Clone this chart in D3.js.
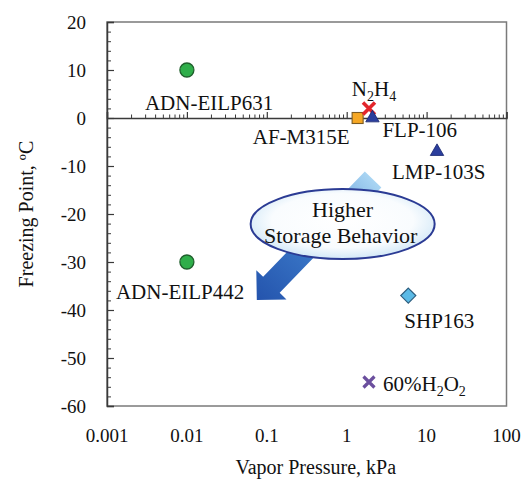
<!DOCTYPE html>
<html>
<head>
<meta charset="utf-8">
<script src="https://cdn.jsdelivr.net/npm/d3@7/dist/d3.min.js"></script>
<style>
  html, body { margin: 0; padding: 0; background: #fff; }
  svg { display: block; }
</style>
</head>
<body>
<svg id="chart" width="523" height="482"></svg>
<script>
// ---- data ----
const names = ["ADN-EILP631", "ADN-EILP442", "AF-M315E", "N2H4", "FLP-106", "LMP-103S", "SHP163", "60%H2O2"];
const vaporPressure = [0.01, 0.01, 1.37, 1.9, 2.1, 13.5, 5.9, 1.9];   // kPa
const freezingPoint = [10, -30, 0, 2, 0, -7, -37, -55];               // °C
const xTicks = [0.001, 0.01, 0.1, 1, 10, 100];
const xTickLabels = ["0.001", "0.01", "0.1", "1", "10", "100"];
const yTicks = [20, 10, 0, -10, -20, -30, -40, -50, -60];
const annotationText = ["Higher", "Storage Behavior"];
// arrow from (vapor pressure, freezing point) tail to tip, ellipse centre
const arrowTail = [2.14, -12.8];
const arrowTip = [0.075, -37.9];
const ellipseCentre = [0.89, -22.1];

// ---- styles ----
const markerStyle = {
  "ADN-EILP631": {shape: "circle", fill: "#2fae4a", stroke: "#1f5f2c"},
  "ADN-EILP442": {shape: "circle", fill: "#2fae4a", stroke: "#1f5f2c"},
  "AF-M315E":    {shape: "square", fill: "#f6a723", stroke: "#7a5a22"},
  "N2H4":        {shape: "x", stroke: "#e3262b", w: 3.6, s: 6},
  "FLP-106":     {shape: "triangle", fill: "#2b3e9d", stroke: "#18266e"},
  "LMP-103S":    {shape: "triangle", fill: "#2b3e9d", stroke: "#18266e"},
  "SHP163":      {shape: "diamond", fill: "#5bbae6", stroke: "#2c5d7e"},
  "60%H2O2":     {shape: "x", stroke: "#6b4f9e", w: 3.2, s: 5.5}
};
// label offsets in px from the marker: [dx, dy, anchor]
const labelOffset = {
  "ADN-EILP631": [-42, 33, "start"],
  "ADN-EILP442": [-71, 30, "start"],
  "AF-M315E":    [-8, 19, "end"],
  "N2H4":        [5, -19, "middle"],
  "FLP-106":     [10, 12, "start"],
  "LMP-103S":    [-45, 20, "start"],
  "SHP163":      [-4, 25, "start"],
  "60%H2O2":     [14, 2, "start"]
};

const svg = d3.select("#chart");
const L = 107, R = 506.5, T = 22, B = 406;
const x = d3.scaleLog().domain([0.001, 100]).range([L, R]);
const y = d3.scaleLinear().domain([-60, 20]).range([B, T]);

// text uses the browser's default (serif) face
function txt(sel, size) {
  return sel.attr("font-size", size).attr("fill", "#111");
}
function cleanAxis(g) {
  g.attr("font-family", null).attr("font-size", null);
  g.selectAll("text").remove();
}

// defs
const defs = svg.append("defs");
const ag = defs.append("linearGradient").attr("id", "arrowGrad")
  .attr("gradientUnits", "userSpaceOnUse").attr("x1", 0).attr("y1", 0).attr("x2", 168).attr("y2", 0);
ag.append("stop").attr("offset", 0).attr("stop-color", "#2454ad");
ag.append("stop").attr("offset", 0.45).attr("stop-color", "#3a77c7");
ag.append("stop").attr("offset", 1).attr("stop-color", "#a9d5f3");
const eg = defs.append("radialGradient").attr("id", "ellGrad").attr("cx", "50%").attr("cy", "45%").attr("r", "55%");
eg.append("stop").attr("offset", 0).attr("stop-color", "#ffffff");
eg.append("stop").attr("offset", 0.7).attr("stop-color", "#f9fcfe");
eg.append("stop").attr("offset", 1).attr("stop-color", "#d2e8f7");

const textLayer = svg.append("g");

// frame
svg.append("rect").attr("x", L).attr("y", T).attr("width", R - L).attr("height", B - T)
  .attr("fill", "none").attr("stroke", "#7a7a7a").attr("stroke-width", 1.5);

// y axis (ticks inside)
const gy = svg.append("g").attr("transform", `translate(${L},0)`)
  .call(d3.axisRight(y).tickValues(yTicks).tickSize(7).tickFormat("")).call(cleanAxis);
gy.select(".domain").attr("stroke", "#3a3a3a").attr("stroke-width", 1.5);
gy.selectAll(".tick line").attr("stroke", "#3a3a3a").attr("stroke-width", 1.2);
const yMinor = d3.range(-60, 21, 2).filter(v => v % 10 !== 0);
const gym = svg.append("g").attr("transform", `translate(${L},0)`)
  .call(d3.axisRight(y).tickValues(yMinor).tickSize(4).tickFormat("")).call(cleanAxis);
gym.select(".domain").remove();
gym.selectAll(".tick line").attr("stroke", "#3a3a3a").attr("stroke-width", 1);

// x axis on y = 0, ticks pointing up
const gx = svg.append("g").attr("transform", `translate(0,${y(0)})`)
  .call(d3.axisTop(x).tickValues(xTicks).tickSize(6).tickFormat("")).call(cleanAxis);
gx.select(".domain").attr("stroke", "#3a3a3a").attr("stroke-width", 1.5);
gx.selectAll(".tick line").attr("stroke", "#3a3a3a").attr("stroke-width", 1.2);
const xMinor = [];
for (let e = -3; e < 2; e++) for (let m = 2; m <= 9; m++) xMinor.push(m * Math.pow(10, e));
const gxm = svg.append("g").attr("transform", `translate(0,${y(0)})`)
  .call(d3.axisTop(x).tickValues(xMinor).tickSize(3.5).tickFormat("")).call(cleanAxis);
gxm.select(".domain").remove();
gxm.selectAll(".tick line").attr("stroke", "#3a3a3a").attr("stroke-width", 1);

// tick labels
textLayer.append("g").selectAll("text").data(yTicks).join("text")
  .call(txt, 19)
  .attr("x", 86).attr("y", d => y(d) + 6.5)
  .attr("text-anchor", "end").text(d => d);
textLayer.append("g").selectAll("text").data(xTicks).join("text")
  .call(txt, 19)
  .attr("x", d => x(d)).attr("y", 441.5)
  .attr("text-anchor", "middle").text((d, i) => xTickLabels[i]);

// axis titles
textLayer.append("text").call(txt, 20).attr("x", (L + R) / 2 + 9).attr("y", 474)
  .attr("text-anchor", "middle").text("Vapor Pressure, kPa");
textLayer.append("text").call(txt, 20).attr("transform", `translate(33,${(T + B) / 2}) rotate(-90)`)
  .attr("text-anchor", "middle").text("Freezing Point, ºC");

// points
const pts = names.map((n, i) => ({name: n, vx: vaporPressure[i], fy: freezingPoint[i]}));
const gp = svg.append("g");
pts.forEach(p => {
  const st = markerStyle[p.name];
  const g = gp.append("g").attr("transform", `translate(${x(p.vx)},${y(p.fy)})`);
  if (st.shape === "circle") {
    g.append("circle").attr("r", 7).attr("fill", st.fill).attr("stroke", st.stroke).attr("stroke-width", 1.3);
  } else if (st.shape === "square") {
    g.append("rect").attr("x", -5.5).attr("y", -5.5).attr("width", 11).attr("height", 11)
      .attr("fill", st.fill).attr("stroke", st.stroke).attr("stroke-width", 1.1);
  } else if (st.shape === "triangle") {
    g.append("path").attr("d", d3.symbol(d3.symbolTriangle, 78)())
      .attr("fill", st.fill).attr("stroke", st.stroke).attr("stroke-width", 0.8);
  } else if (st.shape === "diamond") {
    g.append("path").attr("d", "M0,-7.5L7.5,0L0,7.5L-7.5,0Z")
      .attr("fill", st.fill).attr("stroke", st.stroke).attr("stroke-width", 1.2);
  } else if (st.shape === "x") {
    const s = st.s;
    g.append("path").attr("d", `M${-s},${-s}L${s},${s}M${-s},${s}L${s},${-s}`)
      .attr("stroke", st.stroke).attr("stroke-width", st.w).attr("fill", "none");
  }
});

// point labels
pts.forEach(p => {
  const [dx, dy, anchor] = labelOffset[p.name];
  const t = textLayer.append("text").call(txt, 21).attr("x", x(p.vx) + dx).attr("y", y(p.fy) + dy + 7)
    .attr("text-anchor", anchor);
  if (p.name === "N2H4" || p.name === "60%H2O2") {
    const parts = p.name === "N2H4" ? ["N", "2", "H", "4"] : ["60%H", "2", "O", "2"];
    parts.forEach((s, i) => {
      const sub = i % 2 === 1;
      t.append("tspan").text(s).attr("font-size", sub ? 14 : 21)
        .attr("dy", sub ? 5 : (i === 0 ? null : -5));
    });
  } else {
    t.text(p.name);
  }
});

// arrow
const tip = [x(arrowTip[0]), y(arrowTip[1])];
const tail = [x(arrowTail[0]), y(arrowTail[1])];
const len = Math.hypot(tail[0] - tip[0], tail[1] - tip[1]);
const ang = Math.atan2(tail[1] - tip[1], tail[0] - tip[0]) * 180 / Math.PI;
const hl = 21, hw = 21, sw = 11.5;
const arrowPts = [[0, 0], [hl, hw], [hl, sw], [len, sw], [len, -sw], [hl, -sw], [hl, -hw]];
ag.attr("x2", len);
const annot = svg.append("g");
annot.append("path").attr("transform", `translate(${tip[0]},${tip[1]}) rotate(${ang})`)
  .attr("d", d3.line()(arrowPts) + "Z").attr("fill", "url(#arrowGrad)");

// ellipse annotation
const ec = [x(ellipseCentre[0]), y(ellipseCentre[1])];
annot.append("ellipse").attr("cx", ec[0]).attr("cy", ec[1]).attr("rx", 92).attr("ry", 35)
  .attr("fill", "url(#ellGrad)").attr("stroke", "#2b3b94").attr("stroke-width", 2);
annot.append("text").call(txt, 22).attr("x", ec[0]).attr("y", ec[1] - 15 + 7.5)
  .attr("text-anchor", "middle").text(annotationText[0]);
annot.append("text").call(txt, 22).attr("x", ec[0] - 2).attr("y", ec[1] + 11 + 7.5)
  .attr("text-anchor", "middle").text(annotationText[1]);

textLayer.raise();
annot.raise();
</script>
</body>
</html>
